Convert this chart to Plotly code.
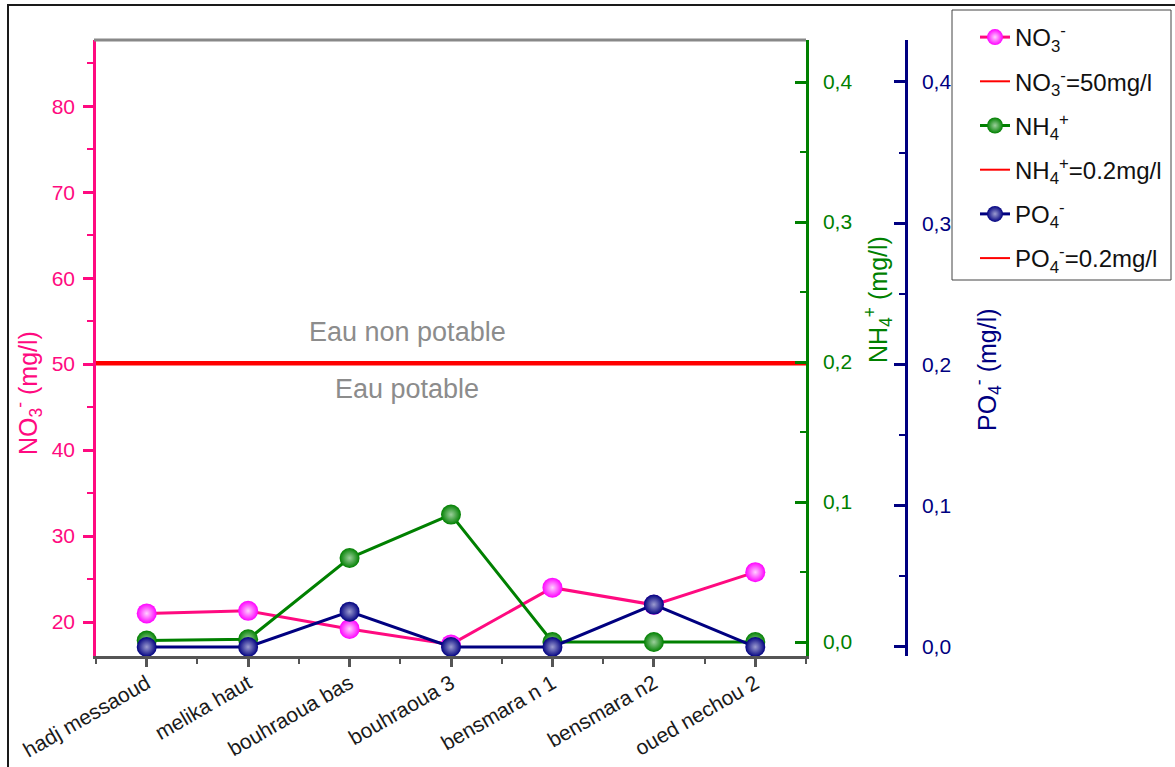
import plotly.graph_objects as go

# Sampling sites along the river
categories = ["hadj messaoud", "melika haut", "bouhraoua bas", "bouhraoua 3",
              "bensmara n 1", "bensmara n2", "oued nechou 2"]

# Measured concentrations (mg/l)
no3 = [21.0, 21.3, 19.2, 17.4, 24.0, 22.0, 25.8]
nh4 = [0.001, 0.002, 0.060, 0.091, 0.0, 0.0, 0.0]
po4 = [0.0, 0.0, 0.025, 0.0, 0.0, 0.030, 0.0]

# Potability limits (mg/l)
no3_limit = 50
nh4_limit = 0.2
po4_limit = 0.2

FONT = "Liberation Sans, Arial, sans-serif"
PINK = "#FF0A80"
MAGENTA = "#FF00FF"
GREEN = "#008000"
NAVY = "#000080"
RED = "#FF0000"
AXGRAY = "#555555"

x_idx = list(range(len(categories)))
x_span = [-0.5, len(categories) - 0.5]

# plot area geometry (pixels) used to lay out the paper
W, H = 1175, 767
L, T, B = 96, 40, 111
PLOT_RIGHT = 806      # NH4 axis
PO4_AXIS = 906        # free PO4 axis
R = W - PO4_AXIS
paper_w = PO4_AXIS - L
paper_h = H - T - B


def px(xp):
    return (xp - L) / paper_w


def py(yp):
    return (H - B - yp) / paper_h


fig = go.Figure()

fig.add_trace(go.Scatter(
    x=x_idx, y=no3, name="NO<sub>3</sub><sup>-</sup>", yaxis="y",
    mode="lines+markers", cliponaxis=False, legendgroup="a",
    line=dict(color=PINK, width=3),
    marker=dict(size=20, color=MAGENTA,
                gradient=dict(type="radial", color="#ffd0ff"))))
fig.add_trace(go.Scatter(
    x=x_span, y=[no3_limit] * 2, name="NO<sub>3</sub><sup>-</sup>=50mg/l",
    yaxis="y", mode="lines", legendgroup="b",
    line=dict(color=RED, width=2)))
fig.add_trace(go.Scatter(
    x=x_idx, y=nh4, name="NH<sub>4</sub><sup>+</sup>", yaxis="y2",
    mode="lines+markers", cliponaxis=False, legendgroup="c",
    line=dict(color=GREEN, width=3),
    marker=dict(size=20, color=GREEN,
                gradient=dict(type="radial", color="#9ccf9c"))))
fig.add_trace(go.Scatter(
    x=x_span, y=[nh4_limit] * 2, name="NH<sub>4</sub><sup>+</sup>=0.2mg/l",
    yaxis="y2", mode="lines", legendgroup="d",
    line=dict(color=RED, width=2)))
fig.add_trace(go.Scatter(
    x=x_idx, y=po4, name="PO<sub>4</sub><sup>-</sup>", yaxis="y3",
    mode="lines+markers", cliponaxis=False, legendgroup="e",
    line=dict(color=NAVY, width=3),
    marker=dict(size=20, color=NAVY,
                gradient=dict(type="radial", color="#9c9cd0"))))
fig.add_trace(go.Scatter(
    x=x_span, y=[po4_limit] * 2, name="PO<sub>4</sub><sup>-</sup>=0.2mg/l",
    yaxis="y3", mode="lines", legendgroup="f",
    line=dict(color=RED, width=2)))

fig.update_layout(
    width=W, height=H,
    margin=dict(l=L, r=R, t=T, b=B, autoexpand=False),
    paper_bgcolor="white", plot_bgcolor="white",
    font=dict(family=FONT, size=21, color="#1a1a1a"),
    separators=", ",
    showlegend=True,
    legend=dict(x=px(975), y=py(15), xanchor="left", yanchor="top",
                bgcolor="rgba(0,0,0,0)", borderwidth=0,
                font=dict(family=FONT, size=24, color="#111111"),
                tracegroupgap=10, itemsizing="trace"),
    xaxis=dict(
        domain=[0, (PLOT_RIGHT - L) / paper_w], automargin=False,
        range=x_span, tickmode="array", tickvals=x_idx, ticktext=categories,
        tickangle=-30, tickfont=dict(size=21, color="#1a1a1a"),
        ticklabelstandoff=-4,
        ticks="outside", ticklen=8, tickwidth=3, tickcolor=AXGRAY,
        minor=dict(tickmode="linear", tick0=-0.5, dtick=1, ticks="outside",
                   ticklen=5, tickwidth=2, tickcolor=AXGRAY),
        showline=True, linecolor=AXGRAY, linewidth=3,
        showgrid=False, zeroline=False),
    yaxis=dict(
        range=[16.05, 87.7], tick0=0, dtick=10, automargin=False,
        ticks="outside", ticklen=10, tickwidth=2.5, tickcolor=PINK,
        tickfont=dict(size=21, color=PINK), ticklabelstandoff=4,
        minor=dict(dtick=5, ticks="outside", ticklen=6, tickwidth=2,
                   tickcolor=PINK),
        showline=True, linecolor=PINK, linewidth=2.5,
        showgrid=False, zeroline=False),
    yaxis2=dict(
        overlaying="y", side="right", anchor="x", automargin=False,
        range=[-0.01, 0.43], tick0=0, dtick=0.1, tickformat=".1f",
        ticks="inside", ticklen=11, tickwidth=2.5, tickcolor=GREEN,
        tickfont=dict(size=21, color=GREEN), ticklabelstandoff=10,
        minor=dict(dtick=0.05, ticks="inside", ticklen=6, tickwidth=2,
                   tickcolor=GREEN),
        showline=True, linecolor=GREEN, linewidth=2.5,
        showgrid=False, zeroline=False),
    yaxis3=dict(
        overlaying="y", side="right", anchor="free", position=1.0,
        automargin=False,
        range=[-0.0064, 0.4297], tick0=0, dtick=0.1, tickformat=".1f",
        ticks="inside", ticklen=11, tickwidth=2.5, tickcolor=NAVY,
        tickfont=dict(size=21, color=NAVY), ticklabelstandoff=10,
        minor=dict(dtick=0.05, ticks="inside", ticklen=6, tickwidth=2,
                   tickcolor=NAVY),
        showline=True, linecolor=NAVY, linewidth=2.5,
        showgrid=False, zeroline=False),
)

annotations = [
    dict(text="Eau non potable", x=px(407), y=py(332),
         font=dict(size=27, color="#8c8c8c")),
    dict(text="Eau potable", x=px(407), y=py(389),
         font=dict(size=27, color="#8c8c8c")),
    dict(text="NO<sub>3</sub><sup>-</sup> (mg/l)", x=px(28), y=py(393),
         textangle=-90, font=dict(size=25, color=PINK)),
    dict(text="NH<sub>4</sub><sup>+</sup> (mg/l)", x=px(878), y=py(300),
         textangle=-90, font=dict(size=25, color=GREEN)),
    dict(text="PO<sub>4</sub><sup>-</sup> (mg/l)", x=px(987), y=py(370),
         textangle=-90, font=dict(size=25, color=NAVY)),
]
for a in annotations:
    a.update(xref="paper", yref="paper", showarrow=False,
             xanchor="center", yanchor="middle")
fig.update_layout(annotations=annotations)

fig.update_layout(shapes=[
    # top frame of the plot area
    dict(type="line", xref="paper", yref="paper",
         x0=px(L - 2), x1=px(PLOT_RIGHT), y0=1, y1=1,
         line=dict(color="#888888", width=3)),
    # outer border of the figure
    dict(type="rect", xref="paper", yref="paper",
         x0=px(8), x1=px(W + 20), y0=py(H + 20), y1=py(5),
         line=dict(color="#1a1a1a", width=2)),
    # legend frame
    dict(type="rect", xref="paper", yref="paper",
         x0=px(952), x1=px(1171), y0=py(280), y1=py(10),
         line=dict(color="#444444", width=1), fillcolor="white"),
])

fig.write_html("out.html")
